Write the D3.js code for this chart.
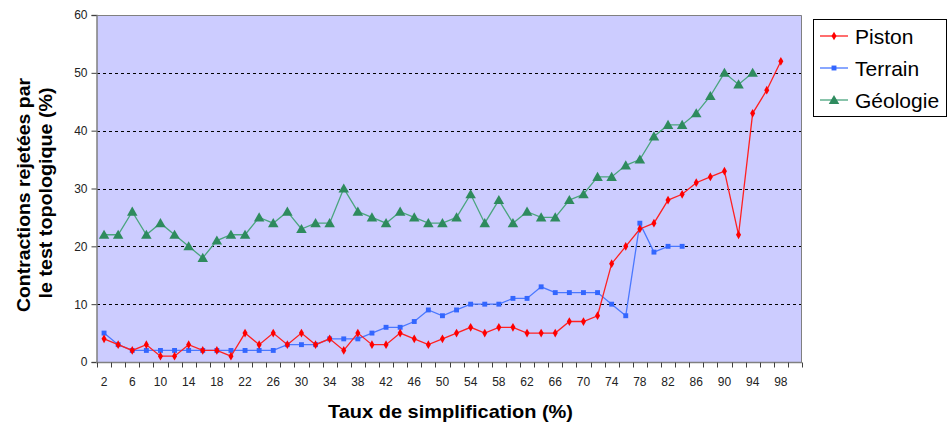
<!DOCTYPE html>
<html>
<head>
<meta charset="utf-8">
<script src="https://cdn.jsdelivr.net/npm/d3@7/dist/d3.min.js"></script>
<style>
  html, body { margin: 0; padding: 0; background: #fff; }
  svg { display: block; font-family: Arial, "Liberation Sans", sans-serif; }
</style>
</head>
<body>
<svg id="chart" width="949" height="427"></svg>
<script>
// Simplification rate categories (%)
const categories = [2,4,6,8,10,12,14,16,18,20,22,24,26,28,30,32,34,36,38,40,
  42,44,46,48,50,52,54,56,58,60,62,64,66,68,70,72,74,76,78,80,
  82,84,86,88,90,92,94,96,98,100];

// Rejected contractions (%) per dataset
const piston = [4,3,2,3,1,1,3,2,2,1,5,3,5,3,5,3,4,2,5,3,
  3,5,4,3,4,5,6,5,6,6,5,5,5,7,7,8,17,20,23,24,
  28,29,31,32,33,22,43,47,52,null];
const terrain = [5,3,2,2,2,2,2,2,2,2,2,2,2,3,3,3,4,4,4,5,
  6,6,7,9,8,9,10,10,10,11,11,13,12,12,12,12,10,8,24,19,
  20,20,null,null,null,null,null,null,null,null];
const geologie = [22,22,26,22,24,22,20,18,21,22,22,25,24,26,23,24,24,30,26,25,
  24,26,25,24,24,25,29,24,28,24,26,25,25,28,29,32,32,34,35,39,
  41,41,43,46,50,48,50,null,null,null];

const xTickLabels = ["2","6","10","14","18","22","26","30","34","38","42","46","50",
  "54","58","62","66","70","74","78","82","86","90","94","98"];
const yTicks = [0,10,20,30,40,50,60];

const seriesNames = ["Piston", "Terrain", "Géologie"];

const svg = d3.select("#chart");
const plot = { left: 97, right: 802, top: 15, bottom: 362 };

const x = d3.scaleBand().domain(categories).range([plot.left, plot.right]).padding(0);
const y = d3.scaleLinear().domain([0, 60]).range([plot.bottom, plot.top]);

// Plot background
svg.append("rect")
  .attr("x", plot.left).attr("y", plot.top)
  .attr("width", plot.right - plot.left).attr("height", plot.bottom - plot.top)
  .attr("fill", "#ccccff");

// Dashed horizontal gridlines
svg.append("g").selectAll("line")
  .data(yTicks.filter(v => v > 0 && v < 60))
  .join("line")
  .attr("x1", plot.left).attr("x2", plot.right)
  .attr("y1", d => Math.round(y(d)) + 0.5).attr("y2", d => Math.round(y(d)) + 0.5)
  .attr("stroke", "#000").attr("stroke-width", 1)
  .attr("stroke-dasharray", "3,3");

// Plot area border (top/right)
svg.append("path")
  .attr("d", `M${plot.left},${plot.top + 0.5}H${plot.right - 0.5}V${plot.bottom}`)
  .attr("fill", "none").attr("stroke", "#808080").attr("stroke-width", 1);

// Y axis
const yAxis = svg.append("g")
  .attr("transform", `translate(${plot.left - 0.5},0)`)
  .call(d3.axisLeft(y).tickValues(yTicks).tickSize(5).tickPadding(4).tickFormat(d3.format("d")));
yAxis.select(".domain").attr("stroke", "#808080").attr("stroke-width", 1.5);
yAxis.selectAll(".tick line").attr("stroke", "#404040");
yAxis.selectAll("text").attr("font-size", 12).attr("fill", "#222")
  .attr("font-family", "Arial, 'Liberation Sans', sans-serif");

// X axis: ticks at category boundaries, labels every other category
const xAxisG = svg.append("g").attr("transform", `translate(0,${plot.bottom + 0.5})`);
xAxisG.append("line")
  .attr("x1", plot.left - 1).attr("x2", plot.right)
  .attr("stroke", "#808080").attr("stroke-width", 1.5);
xAxisG.selectAll("line.tick")
  .data(categories.concat([null]))
  .join("line").attr("class", "tick")
  .attr("x1", (d, i) => Math.round(plot.left + i * x.bandwidth()) + 0.5)
  .attr("x2", (d, i) => Math.round(plot.left + i * x.bandwidth()) + 0.5)
  .attr("y1", 0).attr("y2", 5)
  .attr("stroke", "#404040");
xAxisG.selectAll("text")
  .data(xTickLabels)
  .join("text")
  .attr("x", d => x(+d) + x.bandwidth() / 2)
  .attr("y", 23)
  .attr("text-anchor", "middle")
  .attr("font-size", 12).attr("fill", "#222")
  .text(d => d);

// Axis titles
svg.append("text")
  .attr("x", 450.5).attr("y", 418)
  .attr("text-anchor", "middle")
  .attr("font-size", 19).attr("font-weight", "bold")
  .attr("textLength", 245).attr("lengthAdjust", "spacingAndGlyphs")
  .text("Taux de simplification (%)");

const yTitle = svg.append("g").attr("transform", "translate(0,195) rotate(-90)");
yTitle.append("text")
  .attr("x", 0).attr("y", 30)
  .attr("text-anchor", "middle")
  .attr("font-size", 19).attr("font-weight", "bold")
  .attr("textLength", 234).attr("lengthAdjust", "spacingAndGlyphs")
  .text("Contractions rejetées par");
yTitle.append("text")
  .attr("x", 2).attr("y", 52)
  .attr("text-anchor", "middle")
  .attr("font-size", 19).attr("font-weight", "bold")
  .attr("textLength", 211).attr("lengthAdjust", "spacingAndGlyphs")
  .text("le test topologique (%)");

// Series
const series = [
  { name: seriesNames[0], values: piston,   line: "#ff2020", fill: "#ff0000", symbol: d3.symbolDiamond,  size: 22 },
  { name: seriesNames[1], values: terrain,  line: "#4a78ff", fill: "#3366ff", symbol: d3.symbolSquare,   size: 24 },
  { name: seriesNames[2], values: geologie, line: "#4aa57e", fill: "#2e8b5e", symbol: d3.symbolTriangle, size: 48 }
];

const cx = (d, i) => x(categories[i]) + x.bandwidth() / 2;

const lineGen = d3.line()
  .defined(d => d != null)
  .x((d, i) => cx(d, i))
  .y(d => y(d));

// Draw later series first so Piston sits on top
[...series].reverse().forEach(s => {
  const g = svg.append("g");
  g.append("path")
    .datum(s.values)
    .attr("d", lineGen)
    .attr("fill", "none")
    .attr("stroke", s.line)
    .attr("stroke-width", 1.3);
  g.selectAll("path.mk")
    .data(s.values.map((v, i) => ({ v, i })).filter(p => p.v != null))
    .join("path").attr("class", "mk")
    .attr("d", d3.symbol().type(s.symbol).size(s.size))
    .attr("transform", p => {
      const dy = s.symbol === d3.symbolTriangle ? 1 : 0;
      return `translate(${cx(p.v, p.i)},${y(p.v) + dy})`;
    })
    .attr("fill", s.fill);
});

// Legend
const legend = svg.append("g");
legend.append("rect")
  .attr("x", 813.5).attr("y", 19.5).attr("width", 133).attr("height", 97)
  .attr("fill", "#fff").attr("stroke", "#000").attr("stroke-width", 1);
const legendY = [36, 68, 100];
series.forEach((s, i) => {
  const ly = legendY[i];
  legend.append("line")
    .attr("x1", 820).attr("x2", 848).attr("y1", ly).attr("y2", ly)
    .attr("stroke", s.line).attr("stroke-width", 1.3);
  legend.append("path")
    .attr("d", d3.symbol().type(s.symbol).size(s.size)())
    .attr("transform", `translate(834,${ly + (s.symbol === d3.symbolTriangle ? 1 : 0)})`)
    .attr("fill", s.fill);
  legend.append("text")
    .attr("x", 855).attr("y", ly + 8)
    .attr("font-size", 21).attr("fill", "#000")
    .text(s.name);
});
</script>
</body>
</html>
